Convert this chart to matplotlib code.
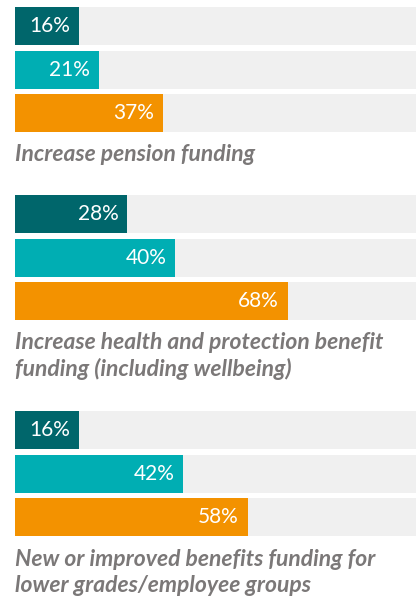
import matplotlib.pyplot as plt

plt.rcParams['font.family'] = ['Lato', 'DejaVu Sans']

# survey results, % of respondents per group
categories = [
    "Increase pension funding",
    "Increase health and protection benefit\nfunding (including wellbeing)",
    "New or improved benefits funding for\nlower grades/employee groups",
]
series_a = [16, 28, 16]
series_b = [21, 40, 42]
series_c = [37, 68, 58]

colors = ["#00666B", "#00AEB3", "#F39200"]
bg_color = "#F0F0F0"
label_color = "#7B7878"

W, H = 416, 598
fig = plt.figure(figsize=(W / 100, H / 100), dpi=100)
# axes in pixel-like units vertically, percent horizontally
ax = fig.add_axes([15 / W, 0, 1 - 15 / W, 1])
ax.set_xlim(0, 100)
ax.set_ylim(H, 0)
ax.axis("off")

group_tops = [7, 195, 411]
bar_h = 38
pitch = 43.5
line_px = 26.5

for gi, top in enumerate(group_tops):
    vals = [series_a[gi], series_b[gi], series_c[gi]]
    for bi, v in enumerate(vals):
        y = top + bi * pitch + bar_h / 2
        ax.barh(y, 100, height=bar_h, color=bg_color, zorder=1)
        ax.barh(y, v, height=bar_h, color=colors[bi], zorder=2)
        ax.annotate(f"{v}%", xy=(v, y), xytext=(-6.5, 0), textcoords="offset points",
                    ha="right", va="center", color="white", fontsize=15, zorder=3)
    # baseline of the last line of the caption
    n_lines = categories[gi].count("\n") + 1
    label_y = top + 2 * pitch + bar_h + 29 + (n_lines - 1) * line_px
    ax.text(0, label_y, categories[gi], ha="left", va="baseline", color=label_color,
            fontsize=16.5, fontweight="bold", fontstyle="italic", linespacing=1.26)

fig.savefig("out.png", dpi=100)
